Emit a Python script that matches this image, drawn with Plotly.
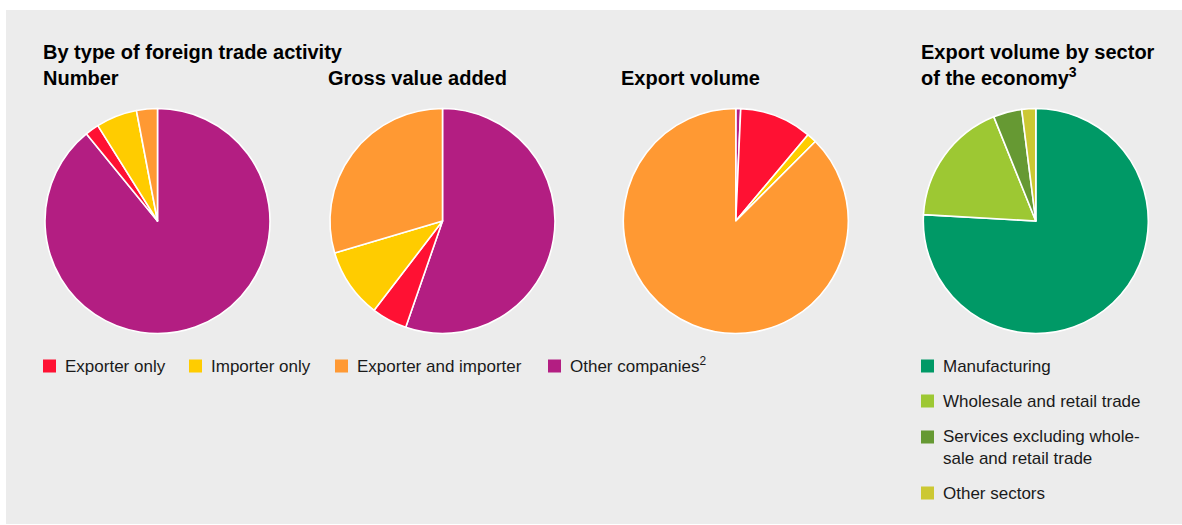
import plotly.graph_objects as go

W, H = 1182, 525

# ---------------- data ----------------
type_labels = ["Exporter only", "Importer only", "Exporter and importer", "Other companies<sup>2</sup>"]
type_colors = ["#FF1133", "#FFCC00", "#FF9933", "#B31E82"]
number_share = [2.0, 5.9, 3.0, 89.1]
gva_share = [5.1, 10.0, 29.6, 55.3]
export_share = [10.4, 1.4, 87.5, 0.7]

sector_labels = ["Manufacturing", "Wholesale and retail trade",
                 "Services excluding whole-<br>sale and retail trade", "Other sectors"]
sector_colors = ["#009966", "#9DC833", "#669933", "#CCC833"]
sector_share = [75.9, 18.0, 4.1, 2.0]

# ---------------- layout helpers ----------------
def px(x):
    return x / W

def py(y):
    return 1 - y / H

R = 112.5
CY = 221
centers = [157.5, 442.5, 735.8, 1035.8]

def dom(cx):
    return dict(x=[px(cx - R), px(cx + R)], y=[py(CY + R), py(CY - R)])

# slices clockwise from 12 o'clock: other companies first
order = [3, 0, 1, 2]

fig = go.Figure()
for share, cx in zip([number_share, gva_share, export_share], centers[:3]):
    fig.add_trace(go.Pie(
        labels=[type_labels[i] for i in order],
        values=[share[i] for i in order],
        marker=dict(colors=[type_colors[i] for i in order], line=dict(color="white", width=1.6)),
        sort=False, direction="clockwise", rotation=0,
        textinfo="none", hoverinfo="label+percent",
        domain=dom(cx), showlegend=False,
    ))

fig.add_trace(go.Pie(
    labels=sector_labels, values=sector_share,
    marker=dict(colors=sector_colors, line=dict(color="white", width=1.6)),
    sort=False, direction="clockwise", rotation=0,
    textinfo="none", hoverinfo="label+percent",
    domain=dom(centers[3]), showlegend=False,
))

shapes = [dict(type="rect", xref="paper", yref="paper", x0=px(6), x1=1, y0=py(524), y1=py(10),
               fillcolor="#ECECEC", line=dict(width=0), layer="below")]
annotations = []

TITLE_FONT = dict(family="Liberation Sans, Arial, sans-serif", size=20, color="#000000")
TEXT_FONT = dict(family="Liberation Sans, Arial, sans-serif", size=17, color="#1a1a1a")

def sup_shift(text):
    return -1.5 if "<sup>" in text else 0

def title(text, x, y):
    annotations.append(dict(text="<b>" + text + "</b>", x=px(x), y=py(y + sup_shift(text)),
                            xref="paper", yref="paper",
                            xanchor="left", yanchor="middle", showarrow=False, borderpad=0,
                            font=TITLE_FONT, align="left"))

title("By type of foreign trade activity", 42, 52.5)
title("Number", 42, 77.5)
title("Gross value added", 327, 77.5)
title("Export volume", 620, 77.5)
title("Export volume by sector", 920, 52.5)
title("of the economy<sup>3</sup>", 920, 77.5)

SQ = 13

def legend_item(label, color, sx, cy, ty=None):
    shapes.append(dict(type="rect", xref="paper", yref="paper",
                       x0=px(sx), x1=px(sx + SQ), y0=py(cy + SQ / 2), y1=py(cy - SQ / 2),
                       fillcolor=color, line=dict(width=0)))
    t = ty if ty is not None else cy
    annotations.append(dict(text=label, x=px(sx + SQ + 8), y=py(t + sup_shift(label)),
                            xref="paper", yref="paper", xanchor="left", yanchor="middle",
                            showarrow=False, borderpad=0, font=TEXT_FONT, align="left"))

for lab, col, sx in zip(type_labels, type_colors, [43, 189, 335, 548]):
    legend_item(lab, col, sx, 366)

sector_rows = [366, 401, 437, 493]
for lab, col, cy in zip(sector_labels, sector_colors, sector_rows):
    n_lines = lab.count("<br>") + 1
    legend_item(lab, col, 921, cy, ty=cy + (n_lines - 1) * 10.5)

fig.update_layout(
    width=W, height=H,
    margin=dict(l=0, r=0, t=0, b=0),
    paper_bgcolor="white", plot_bgcolor="white",
    shapes=shapes, annotations=annotations,
    showlegend=False,
)

fig.write_html("out.html")
